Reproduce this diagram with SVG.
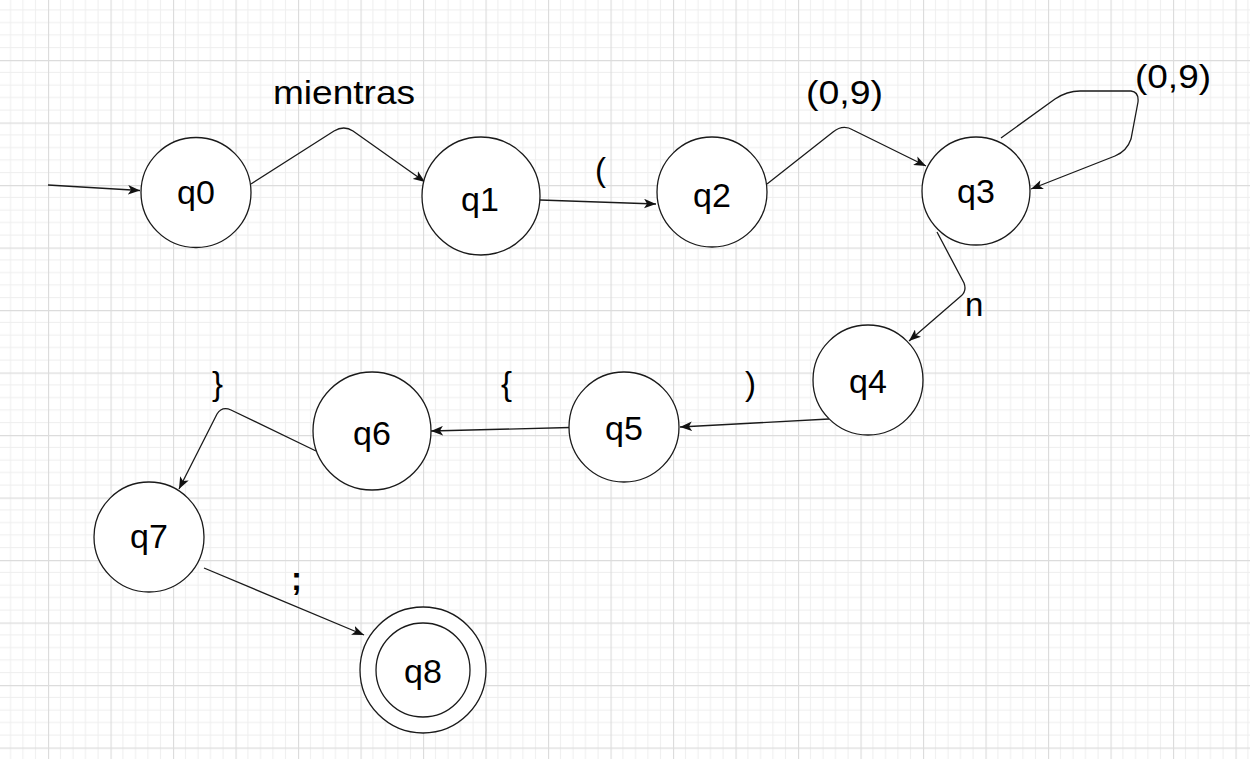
<svg xmlns="http://www.w3.org/2000/svg" width="1250" height="759" viewBox="0 0 1250 759">
<defs>
<pattern id="grid" x="48" y="-2.5" width="62.5" height="62.5" patternUnits="userSpaceOnUse">
<path d="M12.5,0V62.5M25,0V62.5M37.5,0V62.5M50,0V62.5M0,12.5H62.5M0,25H62.5M0,37.5H62.5M0,50H62.5" stroke="#eeeeee" stroke-width="1" fill="none"/>
<path d="M0.5,0V62.5M0,0.5H62.5" stroke="#dcdcdc" stroke-width="1.3" fill="none"/>
</pattern>
<marker id="arr" viewBox="0 0 10 8" refX="10" refY="4" markerWidth="12" markerHeight="10" markerUnits="userSpaceOnUse" orient="auto">
<path d="M0,0 L10,4 L0,8 L2.5,4 Z" fill="#111"/>
</marker>
<style>
.st{fill:#fff;stroke:#1a1a1a;stroke-width:1.3}
.lb{font-family:"Liberation Sans",Arial,sans-serif;font-size:34px;fill:#000;text-anchor:middle}
.el{font-family:"Liberation Sans",Arial,sans-serif;font-size:33px;fill:#000}
.cn{fill:none;stroke:#1a1a1a;stroke-width:1.3;marker-end:url(#arr)}
</style>
</defs>
<rect width="1250" height="759" fill="#fff"/>
<rect width="1250" height="759" fill="url(#grid)"/>

<g id="connectors">
<path class="cn" d="M48,185 L140,190.5"/>
<path class="cn" d="M251,184 L334,131 Q344,125 353,131 L425,182"/>
<path class="cn" d="M540,200 L656,204"/>
<path class="cn" d="M767,184 L833,132 Q843,124 853,130 L926,166"/>
<path class="cn" d="M1001,138 L1055,99 Q1067,91 1080,91 L1131,91 Q1139,92 1138,102 L1131,139 Q1127,151 1115,156 L1031,189"/>
<path class="cn" d="M937,232 L964,283 Q967,291 961,296 L909,341"/>
<path class="cn" d="M829,419 L680,427"/>
<path class="cn" d="M570,427.5 L431,431"/>
<path class="cn" d="M316,451 L231,410 Q222,406 217,414 L179,489"/>
<path class="cn" d="M204,568 L364,635"/>
</g>

<g id="edge-labels">
<text class="el" x="273" y="104" textLength="142" lengthAdjust="spacingAndGlyphs">mientras</text>
<text class="el" x="595" y="181">(</text>
<text class="el" x="806" y="104" textLength="77" lengthAdjust="spacingAndGlyphs">(0,9)</text>
<text class="el" x="1135" y="88" textLength="76" lengthAdjust="spacingAndGlyphs">(0,9)</text>
<text class="el" x="965" y="316">n</text>
<text class="el" x="745" y="395">)</text>
<text class="el" x="501" y="395">{</text>
<text class="el" x="212" y="395">}</text>
<text class="el" x="291" y="590" font-weight="bold">;</text>
</g>

<g id="q0"><circle class="st" cx="196" cy="192.5" r="55"/><text class="lb" x="196" y="204" font-size="30">q0</text></g>
<g id="q1"><circle class="st" cx="481" cy="196" r="59"/><text class="lb" x="480" y="211">q1</text></g>
<g id="q2"><circle class="st" cx="712" cy="192" r="55"/><text class="lb" x="712" y="207">q2</text></g>
<g id="q3"><circle class="st" cx="976" cy="191" r="54"/><text class="lb" x="976" y="203">q3</text></g>
<g id="q4"><circle class="st" cx="868" cy="380" r="55"/><text class="lb" x="868" y="393">q4</text></g>
<g id="q5"><circle class="st" cx="624" cy="427" r="55"/><text class="lb" x="624" y="440">q5</text></g>
<g id="q6"><circle class="st" cx="372" cy="431" r="59"/><text class="lb" x="372" y="445">q6</text></g>
<g id="q7"><circle class="st" cx="149" cy="537" r="55"/><text class="lb" x="149" y="548">q7</text></g>
<g id="q8"><circle class="st" cx="423" cy="670" r="63"/><circle class="st" cx="423" cy="670" r="47"/><text class="lb" x="423" y="683">q8</text></g>
</svg>
